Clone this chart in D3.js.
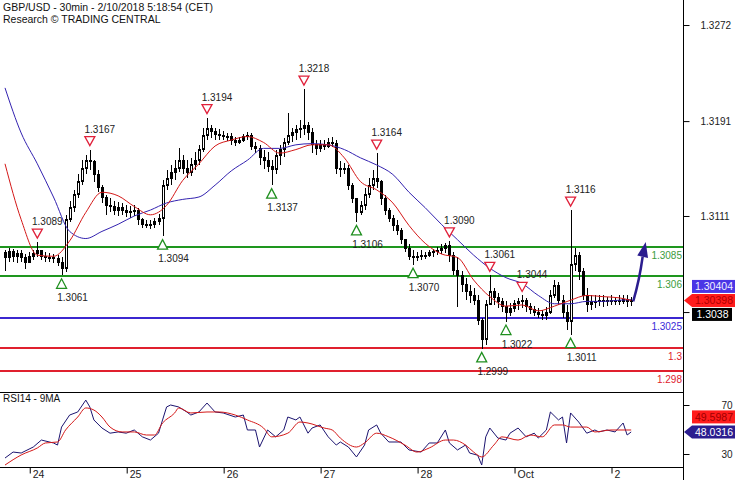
<!DOCTYPE html>
<html><head><meta charset="utf-8">
<script src="https://cdn.jsdelivr.net/npm/d3@7"></script>
<style>
body{margin:0;background:#fff}
svg{display:block}
text{font-family:"Liberation Sans",Arial,sans-serif}
</style>
</head><body>
<svg id="c" width="735" height="480"></svg>
<script>
// ---------- DATA (hourly bars) ----------
const closes = [
 1.3076,1.3081,1.3077,1.3079,1.3076,1.3072,1.3077,1.3079,1.3082,1.3077,1.3076,1.3076, // 0-11
 1.3075,1.3072,1.3067,1.3108,1.3118,1.3129,1.3140,1.3151,1.3158,1.3157,1.3146,1.3135, // 12-23
 1.3127,1.3120,1.3119,1.3116,1.3118,1.3116,1.3114,1.3115,1.3116,1.3108,1.3104,1.3103, // 24-35
 1.3104,1.3106,1.3109,1.3137,1.3143,1.3148,1.3151,1.3158,1.3151,1.3148,1.3154,1.3158, // 36-47
 1.3167,1.3179,1.3185,1.3182,1.3180,1.3179,1.3178,1.3178,1.3175,1.3173,1.3175,1.3178, // 48-59
 1.3179,1.3170,1.3168,1.3160,1.3158,1.3153,1.3150,1.3162,1.3167,1.3173,1.3179,1.3181, // 60-71
 1.3184,1.3185,1.3187,1.3181,1.3171,1.3168,1.3171,1.3170,1.3173,1.3172,1.3151,1.3150, // 72-83
 1.3151,1.3137,1.3126,1.3114,1.3120,1.3129,1.3137,1.3143,1.3140,1.3126,1.3116,1.3109, // 84-95
 1.3103,1.3099,1.3091,1.3084,1.3077,1.3076,1.3077,1.3078,1.3078,1.3080,1.3081,1.3082, // 96-107
 1.3084,1.3086,1.3078,1.3065,1.3061,1.3053,1.3047,1.3044,1.3040,1.3023,1.3007,1.3036, // 108-119
 1.3047,1.3042,1.3039,1.3035,1.3030,1.3033,1.3037,1.3039,1.3040,1.3035,1.3032,1.3030, // 120-131
 1.3028,1.3027,1.3030,1.3044,1.3052,1.3040,1.3030,1.3022,1.3070,1.3078,1.3064,1.3044, // 132-143
 1.3036,1.3039,1.3039,1.3040,1.3039,1.3040,1.3039,1.3040,1.3039,1.3041,1.3039,1.3040  // 144-155
];
const highs = [
 1.3082,1.3084,1.3083,1.3082,1.3082,1.3079,1.3081,1.3082,1.3089,1.3082,1.3081,1.3080,
 1.3079,1.3078,1.3076,1.3112,1.3124,1.3133,1.3146,1.3158,1.3162,1.3167,1.3158,1.3150,
 1.3137,1.3129,1.3126,1.3124,1.3123,1.3122,1.3120,1.3119,1.3120,1.3118,1.3109,1.3108,
 1.3108,1.3109,1.3113,1.3141,1.3150,1.3154,1.3158,1.3168,1.3162,1.3158,1.3160,1.3165,
 1.3171,1.3185,1.3194,1.3188,1.3185,1.3184,1.3183,1.3181,1.3181,1.3178,1.3178,1.3180,
 1.3182,1.3181,1.3173,1.3171,1.3167,1.3165,1.3158,1.3167,1.3171,1.3177,1.3198,1.3185,
 1.3188,1.3192,1.3218,1.3190,1.3185,1.3175,1.3175,1.3175,1.3177,1.3178,1.3175,1.3157,
 1.3156,1.3154,1.3139,1.3126,1.3124,1.3135,1.3143,1.3150,1.3164,1.3141,1.3129,1.3118,
 1.3112,1.3108,1.3101,1.3092,1.3087,1.3082,1.3081,1.3082,1.3081,1.3082,1.3083,1.3085,
 1.3087,1.3088,1.3090,1.3081,1.3076,1.3065,1.3059,1.3053,1.3050,1.3044,1.3025,1.3040,
 1.3061,1.3050,1.3046,1.3042,1.3039,1.3038,1.3040,1.3042,1.3044,1.3042,1.3038,1.3035,
 1.3033,1.3032,1.3034,1.3049,1.3057,1.3055,1.3044,1.3036,1.3116,1.3084,1.3081,1.3067,
 1.3050,1.3044,1.3044,1.3044,1.3044,1.3043,1.3044,1.3043,1.3044,1.3044,1.3044,1.3043
];
const lows = [
 1.3065,1.3072,1.3072,1.3071,1.3072,1.3066,1.3072,1.3074,1.3076,1.3074,1.3072,1.3072,
 1.3071,1.3069,1.3061,1.3064,1.3106,1.3114,1.3126,1.3137,1.3146,1.3150,1.3140,1.3131,
 1.3122,1.3112,1.3114,1.3112,1.3111,1.3112,1.3110,1.3109,1.3111,1.3103,1.3101,1.3101,
 1.3100,1.3101,1.3103,1.3094,1.3133,1.3137,1.3141,1.3148,1.3146,1.3143,1.3145,1.3150,
 1.3154,1.3165,1.3175,1.3177,1.3175,1.3175,1.3175,1.3174,1.3171,1.3170,1.3172,1.3173,
 1.3175,1.3167,1.3164,1.3154,1.3151,1.3148,1.3137,1.3146,1.3154,1.3161,1.3171,1.3173,
 1.3175,1.3177,1.3179,1.3175,1.3164,1.3162,1.3165,1.3167,1.3168,1.3169,1.3146,1.3144,
 1.3146,1.3133,1.3122,1.3106,1.3112,1.3116,1.3126,1.3133,1.3135,1.3120,1.3112,1.3106,
 1.3098,1.3095,1.3087,1.3081,1.3074,1.3070,1.3073,1.3074,1.3075,1.3076,1.3076,1.3078,
 1.3079,1.3080,1.3072,1.3061,1.3034,1.3047,1.3040,1.3038,1.3036,1.3019,1.2999,1.3002,
 1.3036,1.3036,1.3033,1.3030,1.3022,1.3027,1.3030,1.3032,1.3033,1.3030,1.3028,1.3027,
 1.3025,1.3023,1.3023,1.3028,1.3042,1.3036,1.3025,1.3015,1.3011,1.3065,1.3057,1.3040,
 1.3030,1.3032,1.3033,1.3035,1.3034,1.3035,1.3036,1.3036,1.3036,1.3037,1.3034,1.3035
];
const firstOpen = 1.3080;

// moving averages [barIndex, value]
const maRed = [[0,1.3155],[4,1.3108],[8,1.3078],[12,1.3077],[16,1.3090],[20,1.3114],[24,1.3131],[28,1.3128],[32,1.3119],[36,1.3112],
 [40,1.3120],[44,1.3141],[48,1.3155],[52,1.3170],[56,1.3175],[60,1.3178],[64,1.3173],[68,1.3164],[72,1.3167],[76,1.3171],
 [80,1.3171],[84,1.3160],[88,1.3140],[92,1.3133],[96,1.3122],[100,1.3103],[104,1.3088],[108,1.3079],[112,1.3076],[116,1.3057],
 [120,1.3043],[124,1.3035],[128,1.3036],[132,1.3031],[136,1.3035],[140,1.3040],[144,1.3044],[148,1.3043],[152,1.3042],[155,1.30398]];
const maBlue = [[0,1.3219],[4,1.3181],[8,1.3155],[12,1.3127],[16,1.3098],[20,1.3092],[24,1.3098],[28,1.3104],[32,1.3111],[36,1.3116],
 [40,1.3122],[44,1.3125],[48,1.3127],[52,1.3137],[56,1.3149],[60,1.3158],[64,1.3168],[68,1.3168],[72,1.3171],[76,1.3172],
 [80,1.3171],[84,1.3167],[88,1.3160],[92,1.3154],[96,1.3146],[100,1.3131],[104,1.3118],[108,1.3104],[112,1.3091],[116,1.3078],
 [120,1.3067],[124,1.3059],[128,1.3054],[132,1.3044],[136,1.3037],[140,1.3037],[144,1.3039],[148,1.3039],[152,1.3040],[155,1.30404]];

// RSI14 and its 9MA [barIndex, value]
const rsi14 = [[0,26.7],[2,31.6],[4,30.8],[7,35.7],[9,41.4],[12,39],[13,37.3],[14,52],[16,61.8],[18,64.3],[20,74],[21,68.4],[22,57.8],
 [24,51.2],[26,47],[28,48],[30,47],[32,49.6],[34,44],[36,41.4],[38,47],[39,57.8],[40,68.4],[41,70],[43,68.4],[45,64.3],[46,61.8],
 [48,64.3],[50,71.6],[52,64.3],[54,63.5],[57,60.2],[59,61.8],[60,49.6],[62,49.6],[63,35.7],[65,49.6],[67,44],[69,49.6],[70,60.2],
 [72,57.8],[73,60.2],[75,47],[76,51.2],[78,53.7],[80,44],[82,37.3],[83,39.8],[85,35.7],[87,27.6],[89,37.3],[90,49.6],[92,53.7],
 [93,47],[95,39.8],[98,39.8],[100,33.3],[103,31.6],[105,39],[107,39],[109,49.6],[110,39],[112,33.3],[114,37.3],[115,30.8],[117,29],
 [118,21],[119,44],[120,51.2],[122,43],[124,41.4],[125,47],[127,51.2],[129,44],[131,47],[132,43],[134,49.6],[135,64.3],[137,57.8],
 [138,60.2],[139,39],[140,63.5],[142,56.1],[144,47],[146,49.6],[147,48],[149,49.6],[151,48],[153,55.3],[154,45.5],[155,48.0316]];
const rsiMa = [[0,21],[4,29.2],[8,34.9],[10,39],[13,39.8],[15,49.6],[18,60.2],[20,67.6],[22,65.9],[24,60.2],[26,52],[29,48],[32,48],
 [35,45.5],[37,45.5],[39,55.3],[42,63.5],[43,67.6],[46,63.5],[50,64.3],[53,64.3],[57,61.8],[60,57.8],[64,51.2],[66,44],[70,47],
 [73,56.1],[75,55.3],[79,51.2],[81,49.6],[83,43],[87,35.7],[89,39],[92,47],[95,44],[99,37.3],[102,31.6],[105,34.9],[109,41.4],
 [111,41.4],[114,37.3],[116,31.6],[118,27.6],[121,37.3],[123,44],[127,41.4],[130,45.5],[133,44],[136,53.7],[138,53.7],[140,52],
 [144,52],[146,48],[150,49.6],[155,49.5987]];

// pivots
const peakIdx = [8,21,50,74,92,110,120,128,140];
const peakVal = [1.3089,1.3167,1.3194,1.3218,1.3164,1.3090,1.3061,1.3044,1.3116];
const troughIdx = [14,39,66,87,101,118,124,140];
const troughVal = [1.3061,1.3094,1.3137,1.3106,1.3070,1.2999,1.3022,1.3011];

// support / resistance
const levelVals = [1.3085,1.306,1.3025,1.3,1.298];
const levelLabels = ["1.3085","1.306","1.3025","1.3","1.298"];
const levelKinds = ["res","res","pivot","sup","sup"];

// forecast arrow [barIndex, value]
const arrowFrom = [155.5,1.3039];
const arrowTo = [158.6,1.3089];

// axes
const priceTicks = [1.3272,1.3191,1.3111,1.3030];
const priceTickLabels = ["1.3272","1.3191","1.3111",""]; // last one hidden under the price tag
const rsiTicks = [70,30];
const dayIdx = [6,30,54,78,102,126,150];
const dayLabels = ["24","25","26","27","28","Oct","2"];

// tags
const priceTagVals = {ma50:1.30404, last:1.30398, bid:1.3038};
const rsiTagVals = {ma:49.5987, rsi:48.0316};

// ---------- STYLE ----------
const C = {
  res:"#1e961e", resText:"#3c9c3c",
  pivot:"#3b26d0", pivotText:"#3b2ad8",
  sup:"#e0202e", supText:"#e0202e",
  maRed:"#d41818", maBlue:"#3322b0",
  rsi:"#1c1470", rsiMa:"#d41818",
  arrow:"#2b1d8f"
};

// ---------- DRAW ----------
const svg = d3.select("#c");
const RIGHT = 683;
const x = d3.scaleLinear().domain([0,155]).range([5,631.2]);
const y = d3.scaleLinear().domain([1.29626,1.32931]).range([392,0]);
const yr = d3.scaleLinear().domain([30,70]).range([454,405]);

svg.append("rect").attr("width",735).attr("height",480).attr("fill","#fff");

// title
svg.append("text").attr("x",3).attr("y",11).attr("font-size",10.5).attr("fill","#111")
  .text("GBP/USD - 30min - 2/10/2018 5:18:54 (CET)");
svg.append("text").attr("x",3).attr("y",23).attr("font-size",10.5).attr("fill","#111")
  .text("Research \u00A9 TRADING CENTRAL");

// levels
const lv = svg.append("g");
levelVals.forEach((v,i)=>{
  const k = levelKinds[i];
  const yy = Math.round(y(v));
  lv.append("line").attr("x1",0).attr("x2",RIGHT).attr("y1",yy).attr("y2",yy)
    .attr("stroke",C[k]).attr("stroke-width",2);
  lv.append("text").attr("x",682).attr("y",yy+12).attr("text-anchor","end")
    .attr("font-size",10).attr("fill",C[k+"Text"]).text(levelLabels[i]);
});

// candles
const bars = closes.map((c,i)=>({i,o:i?closes[i-1]:firstOpen,h:highs[i],l:lows[i],c}));
const cg = svg.append("g").attr("shape-rendering","crispEdges");
cg.selectAll("line").data(bars).join("line")
  .attr("x1",d=>Math.round(x(d.i))+0.5).attr("x2",d=>Math.round(x(d.i))+0.5)
  .attr("y1",d=>y(Math.max(d.h,d.o,d.c))).attr("y2",d=>y(Math.min(d.l,d.o,d.c)))
  .attr("stroke","#000");
cg.selectAll("rect.b").data(bars).join("rect").attr("class","b")
  .attr("x",d=>Math.round(x(d.i))-1).attr("width",3)
  .attr("y",d=>y(Math.max(d.o,d.c))-0.5)
  .attr("height",d=>Math.max(2,y(Math.min(d.o,d.c))-y(Math.max(d.o,d.c))+1))
  .attr("fill","#000");
cg.selectAll("rect.w").data(bars.filter(d=>d.c>d.o && (y(d.o)-y(d.c))>6)).join("rect").attr("class","w")
  .attr("x",d=>Math.round(x(d.i))).attr("width",1)
  .attr("y",d=>y(d.c)+1.5).attr("height",d=>y(d.o)-y(d.c)-3)
  .attr("fill","#fff");

// MAs
const lineP = d3.line().x(d=>x(d[0])).y(d=>y(d[1])).curve(d3.curveMonotoneX);
svg.append("path").attr("d",lineP(maBlue)).attr("fill","none").attr("stroke",C.maBlue).attr("stroke-width",1);
svg.append("path").attr("d",lineP(maRed)).attr("fill","none").attr("stroke",C.maRed).attr("stroke-width",1);

// pivots
const pg = svg.append("g");
peakIdx.forEach((idx,k)=>{
  const cx = x(idx), yv = y(peakVal[k]);
  pg.append("path").attr("d",`M${cx-5},${yv-13}L${cx+5},${yv-13}L${cx},${yv-4}Z`)
    .attr("fill","#fff").attr("stroke","#e0203a").attr("stroke-width",1.3);
  pg.append("text").attr("x",cx+10).attr("y",yv-17).attr("text-anchor","middle")
    .attr("font-size",10).attr("fill","#222").text(peakVal[k].toFixed(4));
});
troughIdx.forEach((idx,k)=>{
  const cx = x(idx), yv = y(troughVal[k]);
  pg.append("path").attr("d",`M${cx-5},${yv+13}L${cx+5},${yv+13}L${cx},${yv+3.5}Z`)
    .attr("fill","#fff").attr("stroke","#1f8f1f").attr("stroke-width",1.3);
  pg.append("text").attr("x",cx+11).attr("y",yv+26).attr("text-anchor","middle")
    .attr("font-size",10).attr("fill","#222").text(troughVal[k].toFixed(4));
});

// forecast arrow
(function(){
  const sx=x(arrowFrom[0]), sy=y(arrowFrom[1]), tx=x(arrowTo[0]), ty=y(arrowTo[1]);
  const dx=tx-sx, dy=ty-sy, L=Math.hypot(dx,dy), ux=dx/L, uy=dy/L, nx=-uy, ny=ux;
  const bx=tx-15*ux, by=ty-15*uy;
  svg.append("path").attr("d",`M${sx},${sy}Q${(sx+bx)/2+1.5},${(sy+by)/2+1} ${bx},${by}`)
    .attr("fill","none").attr("stroke",C.arrow).attr("stroke-width",2.5);
  svg.append("path").attr("d",`M${tx},${ty}L${bx+5.5*nx},${by+5.5*ny}L${bx-5.5*nx},${by-5.5*ny}Z`)
    .attr("fill",C.arrow);
})();

// frame
svg.append("line").attr("x1",RIGHT+0.5).attr("x2",RIGHT+0.5).attr("y1",0).attr("y2",480).attr("stroke","#000");
svg.append("line").attr("x1",0).attr("x2",RIGHT).attr("y1",392.5).attr("y2",392.5).attr("stroke","#000");
svg.append("line").attr("x1",0).attr("x2",RIGHT).attr("y1",467.5).attr("y2",467.5).attr("stroke","#000");

// price axis
const pa = svg.append("g").attr("transform",`translate(${RIGHT+0.5},0)`)
  .call(d3.axisRight(y).tickValues(priceTicks).tickSize(6).tickPadding(11)
    .tickFormat((d,i)=>priceTickLabels[i]));
pa.select(".domain").remove();
pa.selectAll("text").attr("font-size",10).attr("font-family","Liberation Sans, Arial, sans-serif").attr("fill","#222");

// RSI axis
const ra = svg.append("g").attr("transform",`translate(${RIGHT+0.5},0)`)
  .call(d3.axisRight(yr).tickValues(rsiTicks).tickSize(6).tickPadding(32));
ra.select(".domain").remove();
ra.selectAll("text").attr("font-size",10).attr("font-family","Liberation Sans, Arial, sans-serif").attr("fill","#222");

// time axis
const ta = svg.append("g").attr("transform","translate(0,467.5)")
  .call(d3.axisBottom(x).tickValues(dayIdx).tickSize(6).tickPadding(-3).tickFormat((d,i)=>dayLabels[i]));
ta.select(".domain").remove();
ta.selectAll(".tick line").attr("transform","translate(0.5,0)");
ta.selectAll("text").attr("font-size",10.5).attr("font-family","Liberation Sans, Arial, sans-serif")
  .attr("text-anchor","start").attr("x",3).attr("fill","#222");

// RSI pane
svg.append("text").attr("x",3).attr("y",402).attr("font-size",10).attr("fill","#111").text("RSI14 - 9MA");
const lineR = d3.line().x(d=>x(d[0])).y(d=>yr(d[1]));
svg.append("path").attr("d",lineR(rsi14)).attr("fill","none").attr("stroke",C.rsi).attr("stroke-width",1);
svg.append("path").attr("d",lineR.curve(d3.curveMonotoneX)(rsiMa)).attr("fill","none").attr("stroke",C.rsiMa).attr("stroke-width",1);

// tags
function tag(yc, txt, bg, fg, arrow, x1){
  const h=13, x0=692;
  x1 = x1||735;
  if(arrow){
    svg.append("path").attr("d",`M684,${yc}L${x0},${yc-h/2}L${x1},${yc-h/2}L${x1},${yc+h/2}L${x0},${yc+h/2}Z`).attr("fill",bg);
  } else {
    svg.append("rect").attr("x",x0).attr("y",yc-h/2).attr("width",x1-x0).attr("height",h).attr("fill",bg);
  }
  svg.append("text").attr("x",(x0+x1)/2+0.5).attr("y",yc+3.6).attr("text-anchor","middle")
    .attr("font-size",10.5).attr("fill",fg).text(txt);
}
const yLast = y(priceTagVals.last);
tag(yLast-14, priceTagVals.ma50.toFixed(5), "#4a36e6", "#f0f0ff", false);
tag(yLast, priceTagVals.last.toFixed(5), "#ff1c1c", "#b00000", true);
tag(yLast+14, priceTagVals.bid.toFixed(4), "#000", "#fff", false, 732);
const yR = yr(rsiTagVals.rsi);
tag(yR-15, rsiTagVals.ma.toFixed(4), "#ff1c1c", "#a00000", false);
tag(yR, rsiTagVals.rsi.toFixed(4), "#2b1d8f", "#fff", true);
</script>
</body></html>
